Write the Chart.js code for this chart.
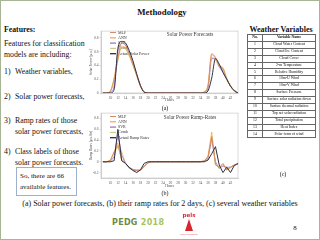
<!DOCTYPE html>
<html><head><meta charset="utf-8">
<script src="https://cdn.jsdelivr.net/npm/chart.js@4.4.1/dist/chart.umd.min.js"></script>
<style>
html,body{margin:0;padding:0;background:#fff;}
#slide{position:relative;width:320px;height:240px;overflow:hidden;font-family:"Liberation Serif","Times New Roman",serif;color:#111;}
#frame{position:absolute;left:0;top:0;width:318px;height:238px;border:1px solid #a7b496;}
.t{position:absolute;white-space:nowrap;line-height:1;transform:translateY(-50%);}
.c{transform:translate(-50%,-50%);}
.b{font-weight:bold;}
.ch{position:absolute;}
#box{position:absolute;left:16px;top:167px;width:61px;height:29px;border:1px solid #9fb0cc;box-sizing:border-box;}
#wv{position:absolute;left:247px;top:34px;width:68px;border-collapse:collapse;table-layout:fixed;font-size:3.8px;line-height:1;}
#wv td{border:1px solid #666;padding:0;text-align:center;height:5.9px;white-space:nowrap;overflow:hidden;}
</style></head>
<body>
<div id="slide">
<div id="frame"></div>
<div class="t c b" style="left:162px;top:12px;font-size:8.8px;">Methodology</div>
<div class="t b" style="left:4px;top:29.5px;font-size:7.8px;">Features:</div>
<div class="t" style="left:4px;top:44px;font-size:7.8px;">Features for classification</div>
<div class="t" style="left:4px;top:55px;font-size:7.8px;">models are including:</div>
<div class="t" style="left:4px;top:72px;font-size:7.8px;">1)</div><div class="t" style="left:15px;top:72px;font-size:7.8px;">Weather variables,</div>
<div class="t" style="left:4px;top:97px;font-size:7.8px;">2)</div><div class="t" style="left:15px;top:97px;font-size:7.8px;">Solar power forecasts,</div>
<div class="t" style="left:4px;top:121px;font-size:7.8px;">3)</div><div class="t" style="left:15px;top:121px;font-size:7.8px;">Ramp rates of those</div>
<div class="t" style="left:15px;top:132px;font-size:7.8px;">solar power forecasts,</div>
<div class="t" style="left:4px;top:152px;font-size:7.8px;">4)</div><div class="t" style="left:15px;top:152px;font-size:7.8px;">Class labels of those</div>
<div class="t" style="left:15px;top:163px;font-size:7.8px;">solar power forecasts.</div>
<div id="box"></div>
<div class="t" style="left:20px;top:175.5px;font-size:7px;">So, there are 66</div>
<div class="t" style="left:20px;top:186.5px;font-size:7px;">available features.</div>

<div class="ch" style="left:84px;top:28px;width:156px;height:74px;"><canvas id="chartA"></canvas></div>
<div class="ch" style="left:84px;top:110px;width:156px;height:78px;"><canvas id="chartB"></canvas></div>
<div class="t c" style="left:190px;top:35px;font-size:5.2px;color:#333;">Solar Power Forecasts</div>
<div class="t c" style="left:190px;top:118px;font-size:5.2px;color:#333;">Solar Power Ramp-Rates</div>
<div class="t c" style="left:165px;top:107.5px;font-size:6px;">(a)</div>
<div class="t c" style="left:165px;top:192.5px;font-size:6px;">(b)</div>

<div class="t c b" style="left:281px;top:30px;font-size:8px;">Weather Variables</div>
<table id="wv"><colgroup><col style="width:15px"><col style="width:53px"></colgroup><tbody id="wvb"></tbody></table>
<div class="t c" style="left:283px;top:174px;font-size:6px;">(c)</div>

<div class="t c" style="left:160px;top:204px;font-size:8px;">(a) Solar power forecasts, (b) their ramp rates for 2 days, (c) several weather variables</div>
<div class="t" style="left:112px;top:223px;font-size:8px;font-family:'DejaVu Sans';font-weight:bold;letter-spacing:0.3px;"><span style="color:#6f8a45">PEDG</span> <span style="color:#a9c45a">2018</span></div>
<div class="t c b" style="left:189px;top:216px;font-size:5.5px;color:#d8262e;font-family:'DejaVu Sans';">pels</div>
<div style="position:absolute;left:185px;top:219px;width:0;height:0;border-left:4px solid transparent;border-right:4px solid transparent;border-bottom:12px solid #d8262e;"></div>
<div class="t c" style="left:189px;top:234px;font-size:2px;color:#d8262e;">power electronics lab</div>
<div class="t c" style="left:295px;top:228px;font-size:7px;">8</div>
</div>

<script>
// ---- data ----
const hours = [8,9,10,11,12,13,14,15,16,17,18,19,20,21,22,23,24,25,26,27,28,29,30,31,32,33,34,35,36,37,38,39,40,41,42,43,44];
const hourTicks = [10,12,14,16,18,20,22,24,26,28,30,32,34,36,38,40,42];
const powerTicks = [0,0.2,0.4,0.6,0.8];
const rampTicks = [-0.2,0,0.2,0.4,0.6,0.8];

const mlpPower    = [0,0,0.02,0.2,0.5,0.73,0.7,0.58,0.43,0.27,0.11,0.02, 0,0,0,0,0,0,0,0,0,0,0,0,0,0,0, 0.01,0.1,0.57,0.52,0.4,0.35,0.2,0.1,0.04,0];
const annPower    = [0,0,0.03,0.22,0.5,0.68,0.66,0.55,0.41,0.26,0.11,0.02, 0,0,0,0,0,0,0,0,0,0,0,0,0,0,0, 0.02,0.12,0.56,0.5,0.4,0.37,0.22,0.11,0.04,0];
const svrPower    = [0,0,0.01,0.1,0.6,0.72,0.7,0.58,0.43,0.26,0.1,0.02, 0,0,0,0,0,0,0,0,0,0,0,0,0,0,0, 0.01,0.06,0.5,0.5,0.38,0.3,0.2,0.1,0.04,0];
const combPower   = [0,0,0.03,0.2,0.47,0.66,0.64,0.54,0.4,0.25,0.1,0.02, 0,0,0,0,0,0,0,0,0,0,0,0,0,0,0, 0.02,0.1,0.52,0.48,0.38,0.35,0.2,0.1,0.04,0];
const actualPower = [0,0,0,0.05,0.65,0.75,0.73,0.62,0.47,0.28,0.11,0.01, 0,0,0,0,0,0,0,0,0,0,0,0,0,0,0, 0,0.03,0.22,0.5,0.42,0.3,0.2,0.1,0.03,0];

const mlpRamp    = [0,0,0.02,0.18,0.3,0.05,-0.03,-0.12,-0.15,-0.16,-0.16,-0.09, -0.02,0,0,0,0,0,0,0,0,0,0,0,0,0,0, 0.01,0.09,0.47,-0.05,-0.12,-0.05,-0.15,-0.1,-0.06,-0.04];
const annRamp    = [0,0,0.03,0.19,0.35,0.02,-0.02,-0.11,-0.14,-0.15,-0.15,-0.09, -0.02,0,0,0,0,0,0,0,0,0,0,0,0,0,0, 0.02,0.1,0.55,-0.06,-0.1,-0.03,-0.15,-0.11,-0.07,-0.04];
const svrRamp    = [0,0,0.01,0.09,0.5,0.12,-0.02,-0.12,-0.15,-0.17,-0.16,-0.08, -0.02,0,0,0,0,0,0,0,0,0,0,0,0,0,0, 0.01,0.05,0.44,0,-0.12,-0.08,-0.1,-0.1,-0.06,-0.04];
const combRamp   = [0,0,0.03,0.17,0.27,0.19,-0.02,-0.1,-0.14,-0.15,-0.15,-0.08, -0.02,0,0,0,0,0,0,0,0,0,0,0,0,0,0, 0.02,0.08,0.42,-0.04,-0.1,-0.03,-0.15,-0.1,-0.06,-0.04];
const actualRamp = [0,0,0,0.02,0.6,0.02,-0.03,-0.1,-0.16,-0.2,-0.15,-0.03, 0,0,0,0,0,0,0,0,0,0,0,0,0,0,0, 0,0.03,0.15,0.28,-0.06,-0.2,-0.1,-0.2,-0.07,-0.03];

const weatherNo = ['1','2','3','4','5','6','7','8','9','10','11','12','13','14'];
const weatherNames = ['Cloud Water Content','Cloud Ice Content','Cloud Cover','2-m Temperature','Relative Humidity','10m-U Wind','10m-V Wind','Surface Pressure','Surface solar radiation down','Surface thermal radiation','Top net solar radiation','Total precipitation','Heat Index','Polar form of wind'];

// ---- table ----
const tb = document.getElementById('wvb');
let html = '<tr><td style="font-weight:bold">No.</td><td style="font-weight:bold">Variable Name</td></tr>';
weatherNo.forEach((n,i)=>{ html += '<tr><td>'+n+'</td><td>'+weatherNames[i]+'</td></tr>'; });
tb.innerHTML = html;

// ---- charts ----
const styles = [
  {label:'MLP', color:'#d3866a', w:0.8},
  {label:'ANN', color:'#f0ad3c', w:0.8},
  {label:'SVR', color:'#9b72c8', w:0.8},
  {label:'Comb', color:'#cfc872', w:0.8},
  {label:'', color:'#2d3142', w:1}
];
const FONT = 'Liberation Serif';

const framePlugin = {
  id:'framebox',
  beforeDatasetsDraw(chart){
    const {ctx, chartArea:a} = chart;
    ctx.save(); ctx.strokeStyle='#c9c9c9'; ctx.lineWidth=0.7;
    ctx.strokeRect(a.left, a.top, a.right-a.left, a.bottom-a.top); ctx.restore();
  }
};
const legendPlacer = {
  id:'legendPlacer',
  afterLayout(chart, args, opts){
    const lg = chart.legend; if(!lg) return;
    lg.left = opts.x; lg.top = opts.y; lg.width = 120; lg.height = 60;
    lg.right = opts.x + 120; lg.bottom = opts.y + 60;
  }
};

function buildChart(id, series, actualLabel, yMin, yMax, yTicks, yTitle, smooth, legendPos, xAxisH){
  const datasets = series.map((arr,i)=>{
    const s = styles[i];
    return {
      label: i===4 ? actualLabel : s.label,
      data: hours.map((h,k)=>({x:h, y:arr[k]})),
      borderColor: s.color, backgroundColor: s.color,
      borderWidth: s.w, pointRadius: 0,
      tension: smooth ? 0.4 : 0,
      cubicInterpolationMode: smooth ? 'monotone' : 'default',
      order: i===4 ? -1 : i
    };
  });
  return new Chart(document.getElementById(id), {
    type:'line',
    data:{datasets},
    plugins:[framePlugin, legendPlacer],
    options:{
      responsive:true, maintainAspectRatio:false, animation:false, devicePixelRatio:1,
      layout:{padding:{top:3,right:2,left:0,bottom:0}},
      plugins:{
        legend:{
          position:'chartArea', align:'start',
          labels:{boxWidth:6, boxHeight:0, padding:1.3, color:'#333',
            font:{family:FONT, size:4},
            sort:(a,b)=>a.datasetIndex-b.datasetIndex}
        },
        legendPlacer: legendPos,
        tooltip:{enabled:false}
      },
      scales:{
        x:{
          type:'linear', min:7.5, max:44,
          afterBuildTicks(ax){ ax.ticks = hourTicks.map(v=>({value:v})); },
          afterFit(ax){ ax.height = xAxisH; },
          ticks:{font:{family:FONT, size:3.5}, color:'#555', padding:1, maxRotation:0, autoSkip:false,
            callback:(v)=>String(v)},
          grid:{display:true, drawOnChartArea:false, tickLength:1.5, color:'#bbb', lineWidth:0.5},
          border:{display:true, color:'#bbb', width:0.7},
          title:{display:true, text:'Hours', font:{family:FONT, size:3.5}, color:'#444', padding:{top:0,bottom:0}}
        },
        y:{
          min:yMin, max:yMax,
          afterBuildTicks(ax){ ax.ticks = yTicks.map(v=>({value:v})); },
          afterFit(ax){ ax.width = 17; },
          ticks:{font:{family:FONT, size:3.5}, color:'#555', padding:1,
            callback:(v)=>String(Math.round(v*10)/10)},
          grid:{display:true, drawOnChartArea:false, tickLength:1.5, color:'#bbb', lineWidth:0.5},
          border:{display:true, color:'#bbb', width:0.7},
          title:{display:true, text:yTitle, font:{family:FONT, size:3.5}, color:'#444', padding:{top:5,bottom:0}}
        }
      }
    }
  });
}

buildChart('chartA', [mlpPower, annPower, svrPower, combPower, actualPower], 'Actual Solar Power',
  0, 0.9, powerTicks, 'Solar Power [p.u.]', true, {x:24.7, y:1.2}, 9);
buildChart('chartB', [mlpRamp, annRamp, svrRamp, combRamp, actualRamp], 'Actual Ramp Rates',
  -0.3, 0.9, rampTicks, 'Ramp Rates [p.u./hr]', false, {x:24.7, y:3.2}, 10);
</script>
</body></html>
